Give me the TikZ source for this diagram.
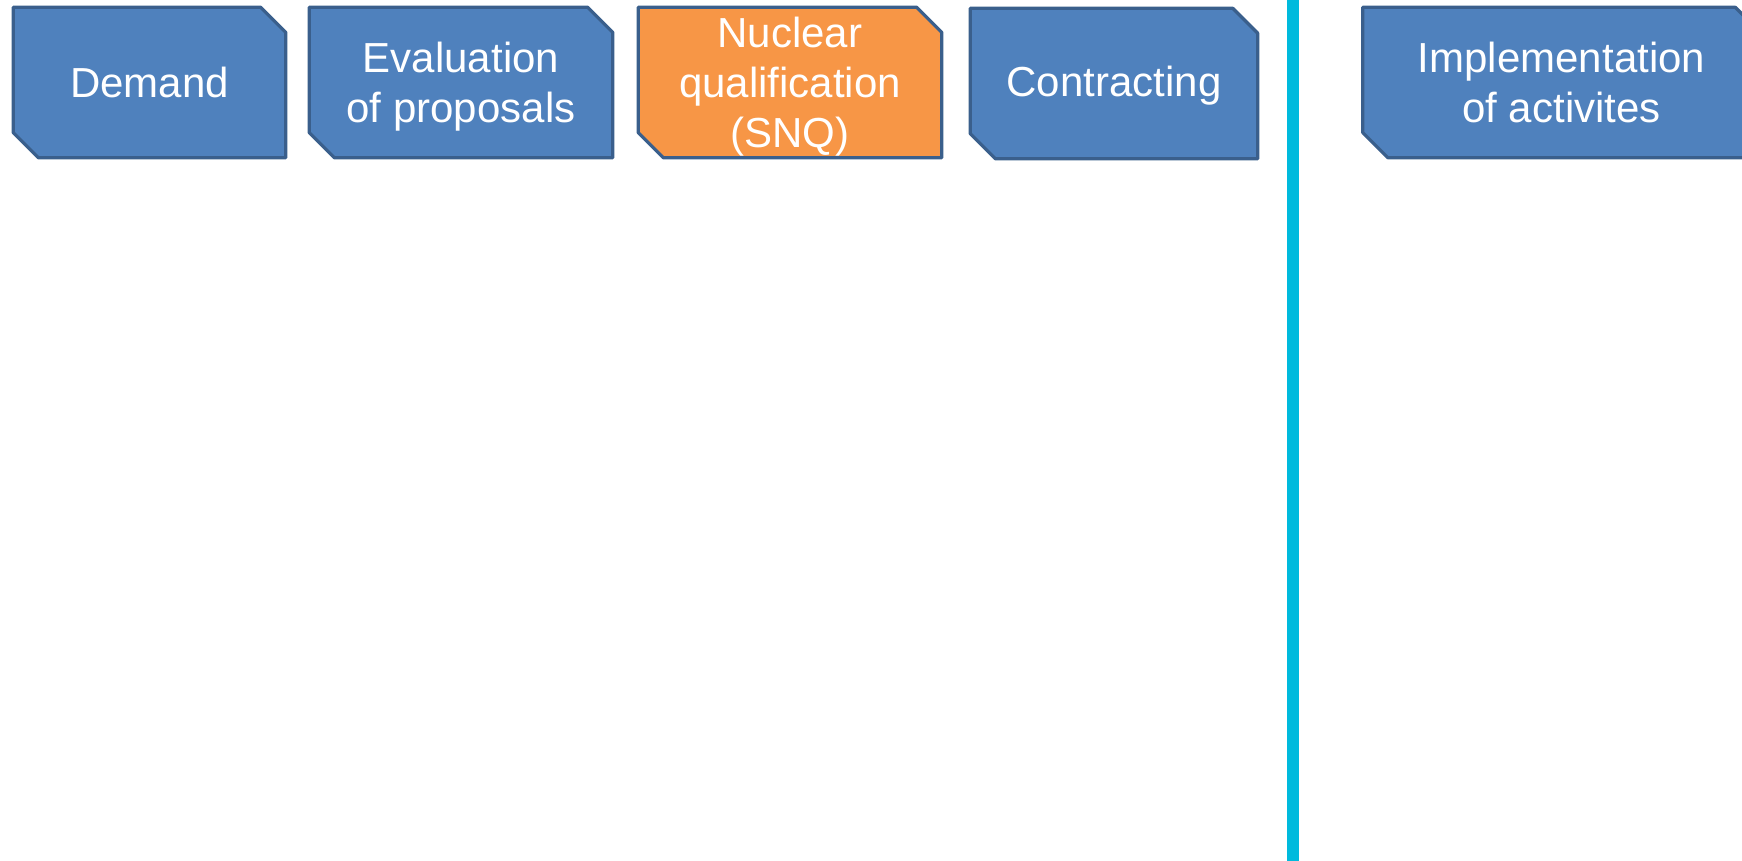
\documentclass[tikz,border=0pt]{standalone}
\usepackage{fontspec}
\setmainfont{Liberation Sans}
\usetikzlibrary{backgrounds}

\definecolor{stepfill}{HTML}{4F81BD}
\definecolor{stepline}{HTML}{3A5F8C}
\definecolor{snqfill}{HTML}{F79646}
\definecolor{divider}{HTML}{00BADD}

\tikzset{
  steptext/.style={rectangle, inner sep=0pt, text=white, align=center,
    font=\fontsize{42}{50}\selectfont},
  stepshape/.style={draw=stepline, line width=3.3pt, line join=round, fill=stepfill},
}

% chamfered outline around a named node: args = node name, chamfer size, style
\newcommand\chamferbox[3]{%
  \begin{scope}[on background layer]
    \path[stepshape,#3] (#1.north west) -- ([xshift=-#2]#1.north east)
      -- ([yshift=-#2]#1.north east) -- (#1.south east)
      -- ([xshift=#2]#1.south west) -- ([yshift=#2]#1.south west) -- cycle;
  \end{scope}}

\begin{document}
\begin{tikzpicture}[x=1pt,y=-1pt]
  \useasboundingbox (0,0) rectangle (1742,861);

  \node[steptext, minimum width=272pt, minimum height=150pt] (demand) at (149.5,82.5) {Demand};
  \node[steptext, minimum width=303pt, minimum height=150pt, text depth=-4pt] (eval) at (461,82.5) {Evaluation\\of proposals};
  \node[steptext, minimum width=303pt, minimum height=150pt] (snq) at (790,82.5) {};
  \node[steptext, minimum width=287pt, minimum height=150pt] (contract) at (1114,83.5) {};
  \node[steptext, minimum width=397pt, minimum height=150pt] (impl) at (1561.5,82.5) {Implementation\\of activites};

  % labels of the middle boxes sit slightly below centre
  \node[steptext] (snqlabel) at ([yshift=-4pt]snq.center) {Nuclear\\qualification\\(SNQ)};
  \node[steptext] (contractlabel) at ([yshift=-2pt]contract.center) {Contracting};

  \chamferbox{demand}{25pt}{}
  \chamferbox{eval}{25pt}{}
  \chamferbox{snq}{25pt}{fill=snqfill}
  \chamferbox{contract}{25pt}{}
  \chamferbox{impl}{25pt}{}

  % divider between contracting and implementation
  \coordinate (divtop) at (1293,0);
  \coordinate (divbot) at (1293,861);
  \draw[divider, line width=12pt] (divtop) -- (divbot);
\end{tikzpicture}
\end{document}
